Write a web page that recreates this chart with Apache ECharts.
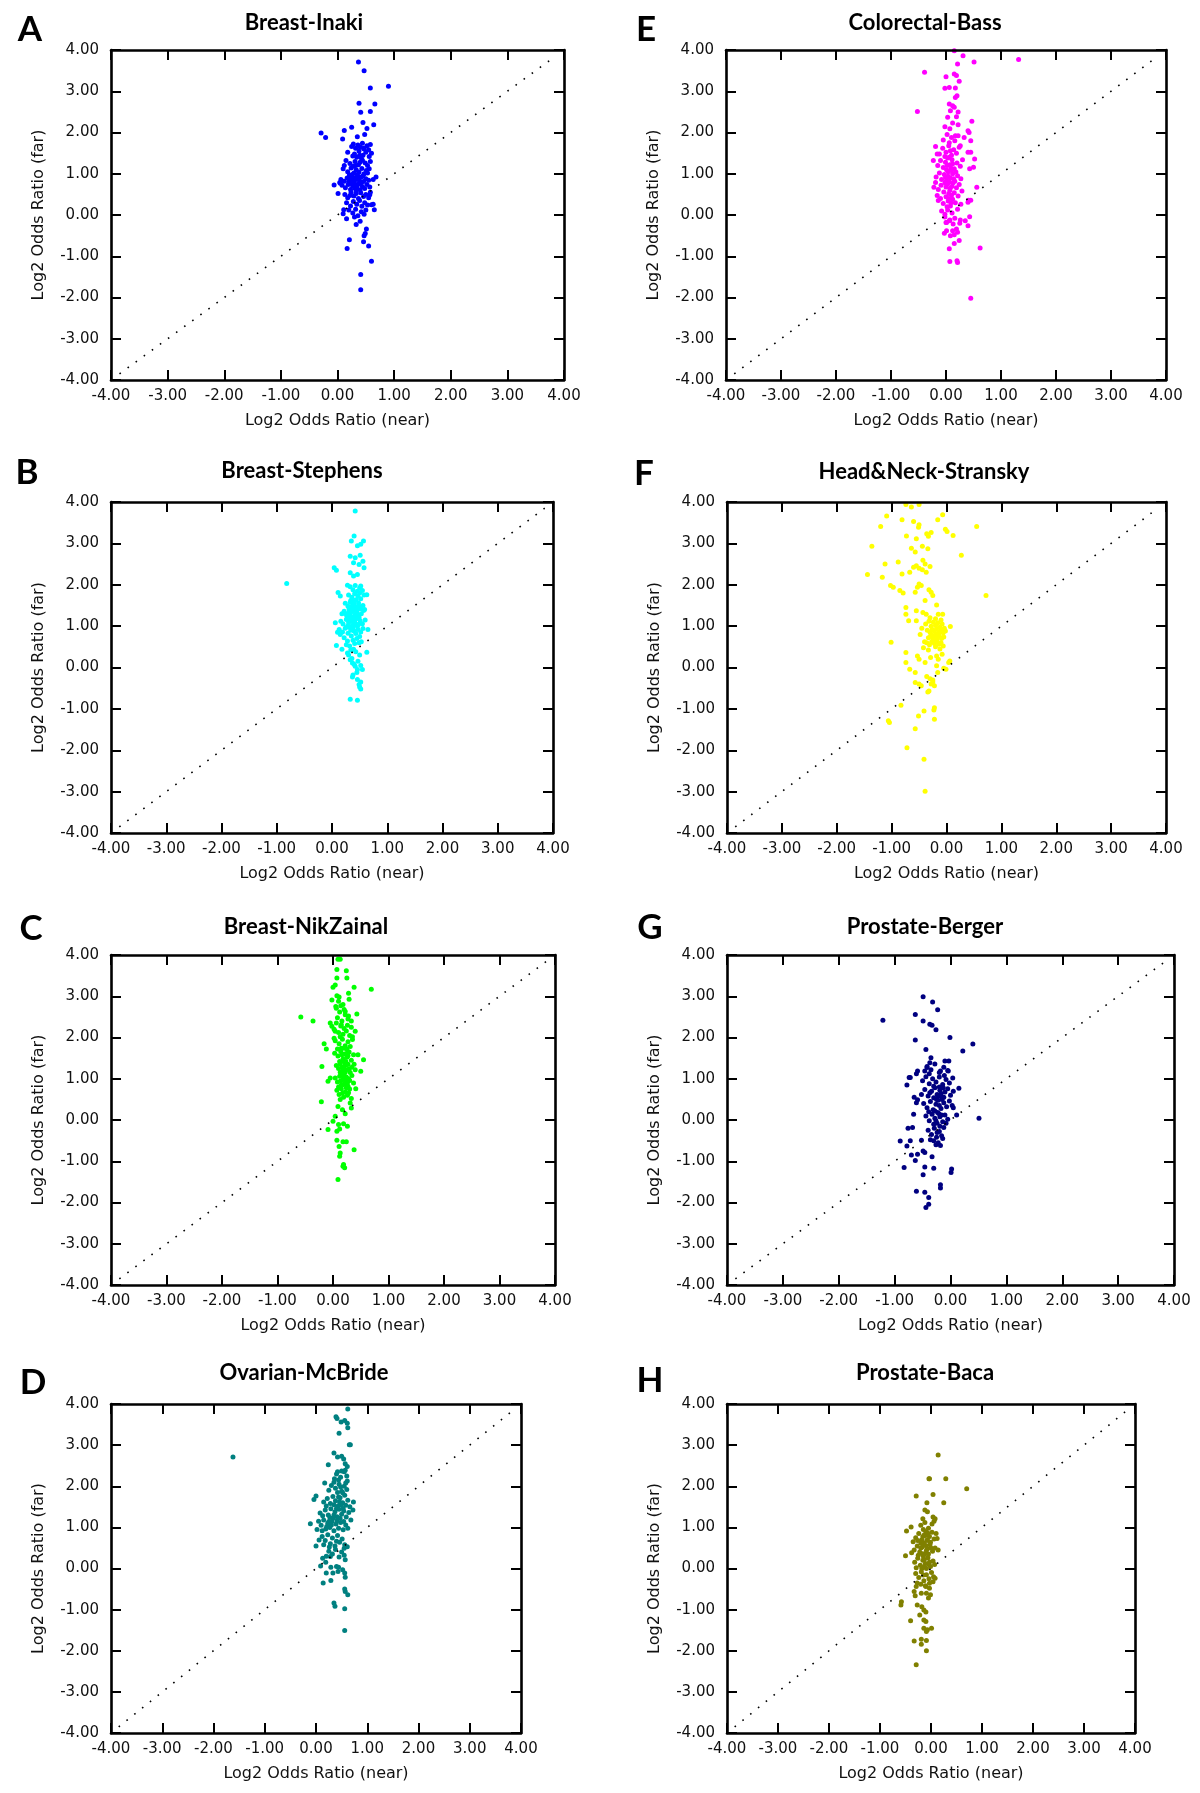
<!DOCTYPE html>
<html><head><meta charset="utf-8">
<script src="https://cdn.jsdelivr.net/npm/echarts@6/dist/echarts.min.js"></script>
<style>html,body{margin:0;padding:0;background:#fff}#chart{width:1200px;height:1793px}</style>
</head><body><div id="chart"></div>
<script>
const panelLetters = ['A','B','C','D','E','F','G','H'];
const panelTitles = ['Breast-Inaki','Breast-Stephens','Breast-NikZainal','Ovarian-McBride','Colorectal-Bass','Head&Neck-Stransky','Prostate-Berger','Prostate-Baca'];
const xAxisName = 'Log2 Odds Ratio (near)';
const yAxisName = 'Log2 Odds Ratio (far)';
const axisMin = -4, axisMax = 4, axisStep = 1;
const diagonalEnds = [-3.85, 3.85];

const breastInaki = [
[0.37,3.71],[0.47,3.50],[0.58,3.08],[0.90,3.12],[0.38,2.71],[0.66,2.69],[0.41,2.49],[0.58,2.51],[0.64,2.19],[-0.29,1.99],[-0.21,1.88],[0.12,2.05],[0.25,2.13],[0.45,2.24],[0.09,1.84],[0.52,2.10],[0.35,1.90],[0.48,1.95],
[0.41,-1.44],[0.41,-1.81],[0.60,-1.12],[0.17,-0.81],[0.21,-0.60],[0.55,-0.75],[0.46,-0.65],[0.49,-0.45],[0.51,-0.34],[0.33,-0.23],[0.16,-0.09],[0.10,0.03],[0.11,0.13],[0.01,0.52],[-0.06,0.73],[0.05,0.77],[0.65,0.13],[0.63,0.26],[0.57,0.49],[0.63,0.86],[0.68,0.92],[0.47,-0.50],[0.40,-0.15],
[0.28,1.72],[0.36,1.70],[0.44,1.74],[0.52,1.68],[0.58,1.71],[0.32,1.62],[0.47,1.60],[0.40,1.65],[0.55,1.58],[0.25,1.66],
[0.18,1.52],[0.30,1.48],[0.38,1.55],[0.45,1.45],[0.50,1.52],[0.56,1.42],[0.34,1.40],[0.42,1.38],[0.27,1.43],[0.60,1.50],
[0.15,1.32],[0.22,1.25],[0.31,1.30],[0.37,1.22],[0.44,1.33],[0.49,1.26],[0.53,1.20],[0.40,1.28],[0.28,1.18],[0.58,1.30],[0.12,1.20],
[0.10,1.12],[0.18,1.05],[0.24,1.14],[0.29,1.02],[0.33,1.10],[0.38,1.04],[0.43,1.13],[0.47,1.00],[0.51,1.08],[0.56,1.12],[0.35,0.98],[0.21,0.97],
[0.06,0.86],[0.12,0.82],[0.17,0.90],[0.22,0.84],[0.26,0.93],[0.30,0.80],[0.34,0.88],[0.39,0.83],[0.42,0.92],[0.46,0.81],[0.50,0.88],[0.55,0.84],[0.28,0.86],[0.36,0.94],[0.04,0.79],
[0.08,0.72],[0.14,0.66],[0.19,0.74],[0.23,0.62],[0.27,0.70],[0.31,0.65],[0.35,0.73],[0.40,0.61],[0.44,0.69],[0.48,0.64],[0.52,0.74],[0.57,0.68],[0.25,0.76],[0.33,0.60],[0.38,0.76],
[0.13,0.50],[0.18,0.42],[0.24,0.55],[0.29,0.46],[0.33,0.52],[0.37,0.40],[0.41,0.54],[0.46,0.45],[0.50,0.50],[0.55,0.42],[0.22,0.47],[0.58,0.55],
[0.16,0.30],[0.23,0.22],[0.28,0.33],[0.34,0.26],[0.39,0.35],[0.43,0.21],[0.48,0.30],[0.53,0.24],[0.60,0.25],
[0.20,0.12],[0.27,0.05],[0.32,0.14],[0.36,-0.02],[0.42,0.08],[0.47,0.02],[0.30,-0.05],[0.50,0.12],
[0.26,0.98],[0.31,0.90],[0.37,0.86],[0.41,0.78],[0.29,0.74],[0.34,0.68],[0.24,0.88],[0.20,0.80],[0.45,0.95],[0.32,1.20],[0.39,1.45],[0.46,1.62],[0.53,1.02]
];

const breastStephens = [
[0.42,3.78],[-0.82,2.03],[0.40,3.18],[0.35,3.06],[0.57,3.06],[0.46,2.94],[0.52,2.98],[0.33,2.69],[0.42,2.65],[0.51,2.71],[0.56,2.57],[0.39,2.53],[0.49,2.49],[0.58,2.41],[0.04,2.41],[0.08,2.35],[0.33,2.29],[0.39,2.21],[0.46,2.25],[0.28,1.99],[0.52,1.97],[0.11,1.81],[0.15,1.73],[0.63,1.76],[0.59,1.40],
[0.06,1.08],[0.10,0.85],[0.15,0.80],[0.08,0.53],[0.18,0.44],[0.28,0.35],[0.39,0.44],[0.49,0.60],[0.63,0.37],[0.33,0.19],[0.37,0.11],[0.42,0.03],[0.46,-0.05],[0.52,0.05],[0.55,-0.05],[0.37,-0.23],[0.46,-0.29],[0.49,-0.41],[0.52,-0.52],[0.50,-0.47],[0.33,-0.77],[0.46,-0.79],[0.65,0.92],
[0.33,1.95],[0.42,1.98],[0.50,1.92],[0.55,1.86],[0.38,1.88],[0.46,1.84],
[0.30,1.75],[0.36,1.70],[0.41,1.78],[0.47,1.72],[0.52,1.66],[0.58,1.75],[0.34,1.62],[0.44,1.64],[0.50,1.80],
[0.24,1.55],[0.29,1.48],[0.33,1.58],[0.37,1.44],[0.40,1.52],[0.44,1.46],[0.48,1.56],[0.52,1.42],[0.56,1.50],[0.31,1.41],[0.46,1.40],[0.39,1.59],
[0.18,1.30],[0.22,1.36],[0.27,1.24],[0.31,1.33],[0.35,1.22],[0.38,1.37],[0.42,1.28],[0.45,1.34],[0.49,1.21],[0.53,1.30],[0.57,1.38],[0.33,1.28],[0.40,1.20],[0.47,1.27],[0.25,1.30],
[0.16,1.12],[0.20,1.05],[0.26,1.16],[0.30,1.08],[0.34,1.15],[0.37,1.02],[0.41,1.10],[0.44,1.18],[0.48,1.04],[0.51,1.13],[0.55,1.06],[0.60,1.15],[0.28,1.00],[0.39,1.17],[0.46,1.00],
[0.13,0.92],[0.19,0.86],[0.24,0.95],[0.29,0.83],[0.34,0.90],[0.38,0.96],[0.43,0.82],[0.47,0.92],[0.52,0.86],[0.40,0.88],[0.31,0.97],[0.56,0.94],
[0.22,0.72],[0.28,0.64],[0.35,0.76],[0.41,0.58],[0.45,0.70],[0.50,0.75],[0.26,0.55],[0.38,0.66],[0.53,0.62],[0.32,0.52],
[0.30,0.30],[0.36,0.22],[0.43,0.38],[0.47,0.15],[0.50,0.30],[0.40,0.08],[0.34,0.42],[0.45,-0.12],[0.38,-0.18],[0.52,-0.35],
[0.36,1.48],[0.43,1.40],[0.41,1.62],[0.35,1.35],[0.44,1.24],[0.38,1.12],[0.43,1.06],[0.36,0.96],[0.49,1.48],[0.32,1.16]
];

const breastNikZainal = [
[0.09,3.90],[0.13,3.90],[0.07,3.65],[0.24,3.62],[0.25,3.44],[0.07,3.44],[0.04,3.27],[0.00,3.22],[0.38,3.22],[0.69,3.17],[0.28,3.07],[0.07,3.01],[0.11,2.98],[-0.02,2.91],[0.29,2.93],[0.14,2.77],[0.06,2.71],[0.22,2.63],[0.43,2.57],[0.28,2.52],[0.33,2.40],
[-0.58,2.50],[-0.36,2.40],[-0.05,2.35],[-0.02,2.27],[0.15,2.31],[0.04,2.15],[0.40,2.15],[0.35,2.02],[0.02,1.98],[-0.16,1.85],[-0.12,1.72],[0.45,1.58],[0.55,1.46],[-0.20,1.30],[0.40,1.22],[0.50,1.18],[-0.05,1.02],[-0.09,0.94],[0.41,0.76],[-0.21,0.44],
[0.09,0.33],[0.17,0.25],[0.22,0.15],[0.33,0.29],[0.31,0.41],[0.04,0.09],[0.00,-0.03],[0.10,-0.11],[0.19,-0.09],[0.26,-0.15],[-0.09,-0.23],[0.07,-0.27],[0.12,-0.22],[0.07,-0.49],[0.18,-0.53],[0.24,-0.53],[0.38,-0.72],[0.11,-0.64],[0.13,-0.80],[0.12,-0.88],[0.19,-1.08],[0.21,-1.16],[0.18,-1.12],[0.09,-1.44],
[0.10,2.88],[0.18,2.80],[0.12,2.62],[0.22,2.55],[0.08,2.48],[0.27,2.45],[0.16,2.40],[0.20,2.68],[0.05,2.75],
[0.06,2.35],[0.14,2.28],[0.20,2.22],[0.26,2.30],[0.10,2.12],[0.18,2.08],[0.24,2.16],[0.30,2.05],[0.13,2.02],[0.33,2.25],[0.02,2.20],
[0.04,1.92],[0.11,1.85],[0.17,1.96],[0.22,1.80],[0.27,1.90],[0.31,1.78],[0.15,1.74],[0.35,1.95],[0.08,1.72],[0.25,1.72],
[0.03,1.62],[0.09,1.55],[0.14,1.66],[0.18,1.48],[0.21,1.60],[0.25,1.52],[0.29,1.65],[0.33,1.45],[0.37,1.58],[0.12,1.42],[0.23,1.42],[0.27,1.56],[0.16,1.58],
[0.06,1.32],[0.10,1.25],[0.13,1.36],[0.17,1.18],[0.20,1.30],[0.24,1.22],[0.27,1.35],[0.31,1.15],[0.34,1.28],[0.15,1.12],[0.22,1.38],[0.29,1.24],[0.38,1.35],[0.19,1.25],
[0.04,1.02],[0.08,0.92],[0.12,1.06],[0.15,0.85],[0.18,0.98],[0.21,0.88],[0.24,1.04],[0.27,0.82],[0.30,0.96],[0.34,1.08],[0.37,0.90],[0.14,0.95],[0.23,0.94],[0.20,1.08],[0.28,1.00],[0.10,0.80],
[0.07,0.72],[0.11,0.62],[0.15,0.76],[0.19,0.55],[0.22,0.68],[0.26,0.60],[0.30,0.75],[0.33,0.52],[0.17,0.65],[0.24,0.78],[0.13,0.50],[0.28,0.66],
[0.19,1.42],[0.24,1.34],[0.17,1.08],[0.22,1.16],[0.26,0.90],[0.19,0.86],[0.16,1.28],[0.25,1.62],[0.20,1.74],[0.13,1.16]
];

const ovarianMcBride = [
[-1.62,2.71],[0.62,3.88],[0.39,3.69],[0.41,3.65],[0.49,3.56],[0.56,3.60],[0.61,3.53],[0.62,3.42],[0.45,3.29],[0.65,3.01],[0.67,3.01],[0.35,2.81],[0.42,2.71],[0.50,2.73],[0.54,2.66],[0.57,2.55],[0.24,2.52],[0.61,2.48],[0.42,2.35],[0.50,2.37],[0.57,2.39],[0.17,2.08],[0.35,2.10],[0.61,2.13],
[0.00,1.76],[-0.04,1.68],[-0.11,1.09],[0.02,0.95],[0.06,0.69],[0.00,0.55],[0.68,1.18],[0.72,1.42],[0.73,1.62],[0.66,1.50],
[0.13,0.25],[0.09,0.06],[0.19,0.15],[0.28,0.29],[0.29,0.03],[0.20,-0.11],[0.33,-0.11],[0.40,0.05],[0.44,0.03],[0.52,-0.03],[0.56,-0.11],[0.57,-0.21],[0.43,-0.07],[0.14,-0.35],[0.29,-0.29],[0.56,-0.50],[0.57,-0.56],[0.62,-0.64],[0.35,-0.84],[0.37,-0.92],[0.56,-0.98],[0.56,-1.51],[0.57,0.21],[0.61,0.53],[0.55,0.49],
[0.40,2.30],[0.48,2.22],[0.55,2.35],[0.44,2.15],[0.60,2.25],[0.36,2.18],
[0.30,2.02],[0.38,1.95],[0.45,2.05],[0.50,1.88],[0.55,2.00],[0.60,1.92],[0.42,1.85],[0.58,2.08],[0.25,1.90],[0.48,1.98],
[0.15,1.62],[0.22,1.70],[0.28,1.58],[0.33,1.75],[0.38,1.65],[0.43,1.52],[0.47,1.72],[0.52,1.60],[0.56,1.78],[0.62,1.66],[0.35,1.55],[0.49,1.55],[0.20,1.52],[0.58,1.54],
[0.08,1.35],[0.13,1.28],[0.18,1.42],[0.24,1.30],[0.29,1.45],[0.33,1.22],[0.37,1.38],[0.41,1.26],[0.45,1.44],[0.50,1.32],[0.54,1.40],[0.59,1.25],[0.64,1.36],[0.27,1.24],[0.47,1.22],
[0.05,1.15],[0.10,1.05],[0.15,1.18],[0.19,0.96],[0.23,1.10],[0.27,1.00],[0.31,1.14],[0.35,0.92],[0.39,1.08],[0.44,0.98],[0.48,1.12],[0.53,0.94],[0.58,1.06],[0.62,0.98],[0.21,1.02],[0.12,0.92],
[0.12,0.78],[0.18,0.68],[0.23,0.82],[0.28,0.60],[0.32,0.74],[0.37,0.55],[0.42,0.80],[0.46,0.64],[0.51,0.72],[0.56,0.58],[0.26,0.52],[0.40,0.66],[0.15,0.58],
[0.25,0.42],[0.32,0.35],[0.38,0.46],[0.45,0.28],[0.50,0.40],[0.55,0.32],[0.20,0.30],
[0.52,1.84],[0.46,1.62],[0.53,1.46],[0.40,1.46],[0.44,1.74],[0.35,1.30],[0.30,1.06],[0.25,1.14],[0.41,1.16],[0.54,1.14]
];

const colorectalBass = [
[0.15,3.98],[0.31,3.86],[0.51,3.71],[1.32,3.77],[0.21,3.66],[-0.39,3.46],[0.15,3.42],[0.19,3.38],[0.00,3.35],[0.24,3.24],[-0.02,3.07],[0.06,3.09],[0.17,3.08],[0.20,2.89],[0.17,2.85],[-0.52,2.51],[0.06,2.69],[0.12,2.65],[0.15,2.61],[0.08,2.53],[0.22,2.50],[0.03,2.37],[0.19,2.38],[0.47,2.27],[0.12,2.23],[0.22,2.19],[-0.02,2.14],[0.07,2.09],[0.40,2.04],[0.42,2.00],[0.17,1.92],[0.33,1.88],[0.45,1.80],[-0.19,1.66],[0.26,1.68],[0.40,1.52],[0.45,1.52],[0.52,1.36],[0.50,1.16],[0.43,1.12],[-0.16,1.48],[-0.23,1.32],[-0.19,0.79],[-0.22,0.67],[-0.16,0.47],[-0.14,0.35],
[0.56,0.67],[0.41,0.36],[0.45,0.36],[0.40,0.31],[0.43,-0.04],[0.40,-0.26],[0.35,-0.14],[0.62,-0.80],[0.45,-2.02],[0.07,-1.13],[0.20,-1.11],[0.21,-1.15],[0.06,-0.82],[0.15,-0.69],[0.24,-0.62],[0.08,-0.50],[0.15,-0.48],[0.21,-0.42],[-0.03,-0.44],[0.01,-0.38],[0.12,-0.38],[0.19,-0.34],[0.26,-0.12],[0.06,-0.14],[0.01,-0.18],[-0.02,0.02],
[0.02,1.95],[0.10,1.88],[0.16,1.80],[-0.05,1.82],[0.22,1.92],[0.06,1.75],
[-0.12,1.48],[-0.06,1.62],[0.00,1.52],[0.05,1.68],[0.10,1.45],[0.14,1.58],[0.19,1.50],[0.24,1.64],[-0.02,1.42],[0.08,1.56],
[-0.15,1.20],[-0.10,1.32],[-0.05,1.15],[-0.01,1.28],[0.03,1.38],[0.07,1.22],[0.11,1.34],[0.15,1.12],[0.20,1.26],[0.26,1.18],[0.01,1.10],[0.09,1.14],[0.30,1.34],
[-0.18,0.92],[-0.12,1.02],[-0.08,0.86],[-0.03,0.98],[0.01,0.84],[0.04,1.05],[0.08,0.90],[0.12,1.00],[0.16,0.82],[0.21,0.95],[0.27,0.88],[-0.01,0.92],[0.06,0.80],[0.10,1.08],[0.18,1.04],
[-0.14,0.62],[-0.09,0.72],[-0.04,0.56],[0.00,0.68],[0.03,0.76],[0.07,0.60],[0.11,0.70],[0.15,0.54],[0.19,0.66],[0.24,0.74],[0.29,0.58],[0.05,0.52],[-0.02,0.78],[0.13,0.78],
[-0.10,0.40],[-0.05,0.28],[0.00,0.44],[0.04,0.34],[0.08,0.22],[0.12,0.38],[0.17,0.30],[0.22,0.46],[0.27,0.26],[0.02,0.20],[0.10,0.48],
[-0.08,0.10],[-0.02,-0.05],[0.03,0.12],[0.07,-0.12],[0.11,0.05],[0.16,-0.08],[0.21,0.14],[0.25,-0.20],[0.00,-0.18],[0.13,-0.22],
[0.04,0.94],[0.08,0.66],[0.02,1.20],[0.06,1.40],[0.12,1.24],[0.05,0.40],[0.14,0.88],[0.09,0.30]
];

const headNeckStransky = [
[-0.74,3.94],[-0.64,3.88],[-0.50,3.94],[-1.09,3.66],[-0.07,3.69],[-0.16,3.57],[-0.81,3.57],[-0.60,3.53],[-0.50,3.45],[-0.51,3.39],[-1.20,3.41],[-0.02,3.34],[0.01,3.29],[0.55,3.41],[-0.73,3.18],[-0.36,3.23],[-0.28,3.26],[-0.33,3.17],[0.12,3.19],[-1.36,2.93],[-0.55,3.11],[-0.64,2.88],[-0.44,2.93],[-0.34,2.87],[-0.57,2.79],[0.27,2.71],
[-0.88,2.55],[-1.12,2.50],[-0.60,2.42],[-0.55,2.46],[-0.50,2.40],[-0.43,2.59],[-0.39,2.50],[-0.30,2.44],[-0.67,2.30],[-0.81,2.26],[-0.37,2.30],[-0.44,2.36],[-1.44,2.25],[-1.17,2.18],[-1.02,1.98],[-0.97,1.94],[-0.50,2.02],[-0.53,1.94],[-0.46,1.98],[-0.32,1.88],[-0.28,1.82],[-0.85,1.86],[-0.79,1.80],[-0.57,1.82],[0.72,1.74],[-0.25,1.74],[-0.39,1.62],[-0.18,1.51],[-0.74,1.45],[-0.55,1.37],[-0.43,1.33],[-0.37,1.29],[-0.15,1.29],[-0.07,1.29],[-0.74,1.29],[-0.69,1.13],[-0.55,1.13],[0.07,0.99],[-1.01,0.61],
[-0.74,0.36],[-0.74,0.12],[-0.67,-0.04],[-0.53,0.28],[-0.50,0.20],[-0.39,0.12],[-0.29,0.24],[-0.18,0.28],[-0.15,0.20],[-0.08,0.32],[-0.05,-0.02],[-0.01,-0.04],[0.04,0.12],[0.06,0.16],[-0.18,0.04],[-0.57,-0.12],[-0.57,-0.36],[-0.50,-0.40],[-0.46,-0.44],[-0.36,-0.22],[-0.30,-0.27],[-0.28,-0.40],[-0.25,-0.35],[-0.22,-0.44],[-0.34,-0.59],[-0.32,-0.57],[-0.83,-0.91],[-0.22,-0.97],[-0.23,-1.03],[-0.41,-1.05],[-0.51,-1.17],[-0.22,-1.25],[-1.06,-1.29],[-1.04,-1.33],[-0.57,-1.48],[-0.72,-1.94],[-0.41,-2.22],[-0.39,-2.99],[-0.25,-0.30],[-0.16,-0.12],
[-0.38,1.05],[-0.32,1.12],[-0.28,1.00],[-0.24,1.10],[-0.20,1.02],[-0.16,1.08],[-0.12,0.98],[-0.08,1.05],[-0.04,0.95],
[-0.35,0.90],[-0.30,0.85],[-0.26,0.92],[-0.22,0.88],[-0.18,0.94],[-0.14,0.86],[-0.10,0.90],[-0.06,0.84],[-0.02,0.88],[-0.27,0.80],[-0.19,0.80],
[-0.33,0.72],[-0.29,0.76],[-0.25,0.70],[-0.21,0.74],[-0.17,0.68],[-0.13,0.76],[-0.09,0.70],[-0.05,0.74],[-0.23,0.66],[-0.15,0.82],
[-0.36,0.60],[-0.31,0.55],[-0.27,0.62],[-0.22,0.58],[-0.18,0.62],[-0.14,0.56],[-0.10,0.60],[-0.06,0.52],[-0.20,0.50],[-0.42,0.48],[-0.40,0.62],[-0.12,0.45],[-0.33,0.42],
[-0.30,1.20],[-0.20,1.18],[-0.10,1.15],[-0.45,0.95],[-0.48,0.80]
];

const prostateBerger = [
[-0.49,2.99],[-0.32,2.86],[-0.23,2.67],[-1.21,2.42],[-0.63,2.56],[-0.49,2.40],[-0.37,2.32],[-0.33,2.30],[-0.26,2.19],[-0.01,2.00],[-0.63,1.94],[0.40,1.84],[0.22,1.67],[-0.44,1.71],[-0.35,1.51],[-0.37,1.39],[-0.10,1.43],[-0.03,1.43],[-0.42,1.27],[-0.46,1.19],[-0.59,1.19],[-0.61,1.12],[-0.18,1.19],[-0.04,1.19],[-0.72,1.03],[-0.74,1.03],[-0.78,0.85],[0.15,0.77],[-0.65,0.55],[-0.59,0.49],[-0.61,0.42],[0.05,0.30],[0.11,0.12],[0.51,0.04],[-0.66,0.14],
[-0.76,-0.20],[-0.68,-0.18],[-0.90,-0.51],[-0.72,-0.50],[-0.78,-0.63],[-0.52,-0.49],[-0.49,-0.75],[-0.46,-0.79],[-0.70,-0.85],[-0.59,-0.83],[-0.63,-0.98],[-0.33,-0.89],[-0.83,-1.15],[-0.46,-1.14],[-0.30,-1.17],[0.02,-1.19],[0.01,-1.27],[-0.49,-1.33],[-0.18,-1.57],[-0.18,-1.65],[-0.61,-1.73],[-0.46,-1.75],[-0.39,-1.88],[-0.39,-2.04],[-0.44,-2.12],
[-0.42,1.30],[-0.35,1.22],[-0.28,1.36],[-0.20,1.15],[-0.12,1.28],[-0.05,1.20],[-0.38,1.12],
[-0.50,0.95],[-0.44,1.05],[-0.38,0.88],[-0.32,1.00],[-0.26,0.92],[-0.20,1.04],[-0.14,0.86],[-0.08,0.98],[-0.02,0.90],[0.04,1.02],[-0.30,0.82],[-0.11,1.08],
[-0.52,0.62],[-0.46,0.74],[-0.40,0.58],[-0.34,0.70],[-0.28,0.78],[-0.24,0.62],[-0.19,0.72],[-0.15,0.56],[-0.10,0.68],[-0.05,0.76],[0.00,0.60],[0.05,0.70],[-0.30,0.54],[-0.20,0.80],[-0.13,0.78],[-0.37,0.66],
[-0.48,0.40],[-0.42,0.30],[-0.36,0.45],[-0.31,0.25],[-0.26,0.38],[-0.22,0.48],[-0.17,0.28],[-0.12,0.42],[-0.07,0.32],[-0.02,0.46],[0.03,0.35],[-0.28,0.22],[-0.15,0.50],[-0.39,0.20],
[-0.44,0.10],[-0.38,-0.02],[-0.33,0.14],[-0.28,0.04],[-0.24,-0.08],[-0.19,0.08],[-0.14,-0.04],[-0.10,0.12],[-0.05,0.02],[-0.30,-0.10],[-0.21,0.16],[-0.08,-0.08],
[-0.40,-0.25],[-0.34,-0.35],[-0.29,-0.20],[-0.25,-0.42],[-0.20,-0.28],[-0.16,-0.38],[-0.12,-0.18],[-0.30,-0.50],[-0.22,-0.55],[-0.18,-0.62],[-0.26,-0.60],[-0.14,-0.45],[-0.36,-0.48],
[-0.22,0.58],[-0.17,0.64],[-0.25,0.50],[-0.12,0.55],[-0.20,0.35],[-0.23,0.18],[-0.16,0.12],[-0.26,-0.02],[-0.19,-0.15],[-0.24,-0.30]
];

const prostateBaca = [
[0.14,2.76],[-0.04,2.18],[-0.03,2.18],[0.29,2.18],[0.70,1.94],[0.04,1.80],[-0.29,1.76],[0.25,1.60],[-0.08,1.60],[-0.12,1.42],[-0.07,1.38],[-0.16,1.21],[0.04,1.25],[0.08,1.21],[-0.48,0.91],[-0.39,1.01],[-0.50,0.31],[0.14,0.45],[0.12,0.73],[0.10,0.85],
[0.08,-0.24],[0.04,-0.32],[-0.03,-0.36],[-0.10,-0.44],[-0.03,-0.48],[-0.29,-0.44],[-0.33,-0.56],[-0.31,-0.66],[-0.19,-0.60],[-0.09,-0.60],[-0.05,-0.72],[-0.01,-0.64],[-0.58,-0.81],[-0.59,-0.89],[-0.27,-0.89],[-0.18,-0.93],[-0.14,-1.01],[-0.10,-1.06],[-0.22,-1.13],[-0.14,-1.25],[-0.10,-1.29],[-0.40,-1.27],[-0.14,-1.45],[-0.07,-1.49],[0.01,-1.45],[-0.09,-1.53],[-0.33,-1.76],[-0.19,-1.72],[-0.09,-1.75],[-0.19,-1.84],[-0.09,-2.00],[-0.29,-2.34],
[-0.20,1.05],[-0.12,1.12],[-0.05,0.98],[0.02,1.08],[-0.15,0.95],[0.06,1.15],
[-0.30,0.75],[-0.24,0.85],[-0.18,0.70],[-0.13,0.82],[-0.08,0.68],[-0.03,0.78],[0.02,0.88],[0.06,0.72],[-0.20,0.62],[-0.10,0.90],[-0.35,0.65],[-0.01,0.64],[-0.16,0.78],[-0.06,0.86],[-0.26,0.68],
[-0.33,0.45],[-0.27,0.55],[-0.22,0.40],[-0.17,0.52],[-0.12,0.36],[-0.07,0.48],[-0.02,0.58],[0.03,0.42],[0.08,0.50],[-0.25,0.32],[-0.15,0.30],[-0.05,0.35],[-0.38,0.38],[-0.10,0.56],[-0.20,0.50],[0.00,0.50],
[-0.32,0.15],[-0.26,0.25],[-0.21,0.08],[-0.16,0.20],[-0.11,0.12],[-0.06,0.26],[-0.01,0.05],[0.04,0.18],[-0.29,0.02],[-0.18,0.00],[0.07,0.10],[-0.09,0.00],[-0.13,0.22],[-0.03,0.16],
[-0.30,-0.12],[-0.24,-0.22],[-0.19,-0.08],[-0.14,-0.30],[-0.09,-0.15],[-0.04,-0.25],[0.01,-0.10],[-0.20,-0.38],[-0.11,-0.42],[-0.27,-0.35],[0.05,-0.20],
[-0.14,0.62],[-0.09,0.44],[-0.13,0.05],[-0.07,0.70],[-0.17,0.36],[-0.04,0.10],[-0.15,-0.16],[-0.11,0.80]
];

const panelData = [breastInaki, breastStephens, breastNikZainal, ovarianMcBride, colorectalBass, headNeckStransky, prostateBerger, prostateBaca];
const panelColors = ['#0000ff','#00ffff','#00ff00','#008080','#ff00ff','#ffff00','#000080','#808000'];
const layout = [
  {left:111, top:50,   width:453, height:330, titleX:304, titleY:23,   letterX:30,  letterY:30},
  {left:111, top:502,  width:442, height:331, titleX:302, titleY:471,  letterX:27,  letterY:473},
  {left:111, top:955,  width:444, height:330, titleX:306, titleY:927,  letterX:31,  letterY:929},
  {left:111, top:1404, width:410, height:329, titleX:304, titleY:1373, letterX:33,  letterY:1383},
  {left:726, top:50,   width:440, height:330, titleX:925, titleY:23,   letterX:646, letterY:30},
  {left:727, top:502,  width:439, height:331, titleX:924, titleY:472,  letterX:644, letterY:474},
  {left:727, top:955,  width:447, height:330, titleX:925, titleY:927,  letterX:650, letterY:928},
  {left:727, top:1404, width:408, height:329, titleX:925, titleY:1373, letterX:650, letterY:1381}
];

const chart = echarts.init(document.getElementById('chart'), null, {renderer:'canvas'});
const grids = [], xAxes = [], yAxes = [], series = [], graphics = [];
const tickFont = {fontFamily:'DejaVu Sans', fontSize:15, color:'#111'};
const tickStyle = {show:true, inside:true, length:10, lineStyle:{color:'#000', width:2}};
const frameLine = {show:true, onZero:false, lineStyle:{color:'#000', width:2.6}};
layout.forEach((L, i) => {
  grids.push({left:L.left, top:L.top, width:L.width, height:L.height, show:false});
  const base = {type:'value', min:axisMin, max:axisMax, interval:axisStep, gridIndex:i, splitLine:{show:false}, axisLine:frameLine, axisTick:tickStyle, z:4};
  xAxes.push(Object.assign({}, base, {position:'bottom', axisLabel:Object.assign({margin:9, formatter:v=>v.toFixed(2)}, tickFont),
    name:xAxisName, nameLocation:'middle', nameGap:33, nameTextStyle:{fontFamily:'DejaVu Sans', fontSize:16, color:'#111'}}));
  xAxes.push(Object.assign({}, base, {position:'top', axisLabel:{show:false}}));
  yAxes.push(Object.assign({}, base, {position:'left', axisLabel:Object.assign({margin:12, formatter:v=>v.toFixed(2)}, tickFont),
    name:yAxisName, nameLocation:'middle', nameGap:64, nameRotate:90, nameTextStyle:{fontFamily:'DejaVu Sans', fontSize:16, color:'#111'}}));
  yAxes.push(Object.assign({}, base, {position:'right', axisLabel:{show:false}}));
  series.push({type:'scatter', xAxisIndex:2*i, yAxisIndex:2*i, data:panelData[i], symbolSize:5,
    itemStyle:{color:panelColors[i], opacity:1}, z:2, silent:true});
  series.push({type:'line', xAxisIndex:2*i, yAxisIndex:2*i, data:[[diagonalEnds[0],diagonalEnds[0]],[diagonalEnds[1],diagonalEnds[1]]],
    symbol:'none', lineStyle:{color:'#000', width:1.6, type:[1.6,8.4]}, z:3, silent:true});
  graphics.push({type:'text', x:L.titleX, y:L.titleY, style:{text:panelTitles[i], font:'bold 22px Lato', fill:'#000', textAlign:'center', textVerticalAlign:'middle'}});
  graphics.push({type:'text', x:L.letterX, y:L.letterY, style:{text:panelLetters[i], font:'bold 35px Lato', fill:'#000', textAlign:'center', textVerticalAlign:'middle'}});
});
chart.setOption({animation:false, backgroundColor:'#fff', grid:grids, xAxis:xAxes, yAxis:yAxes, series:series, graphic:graphics});
</script></body></html>
